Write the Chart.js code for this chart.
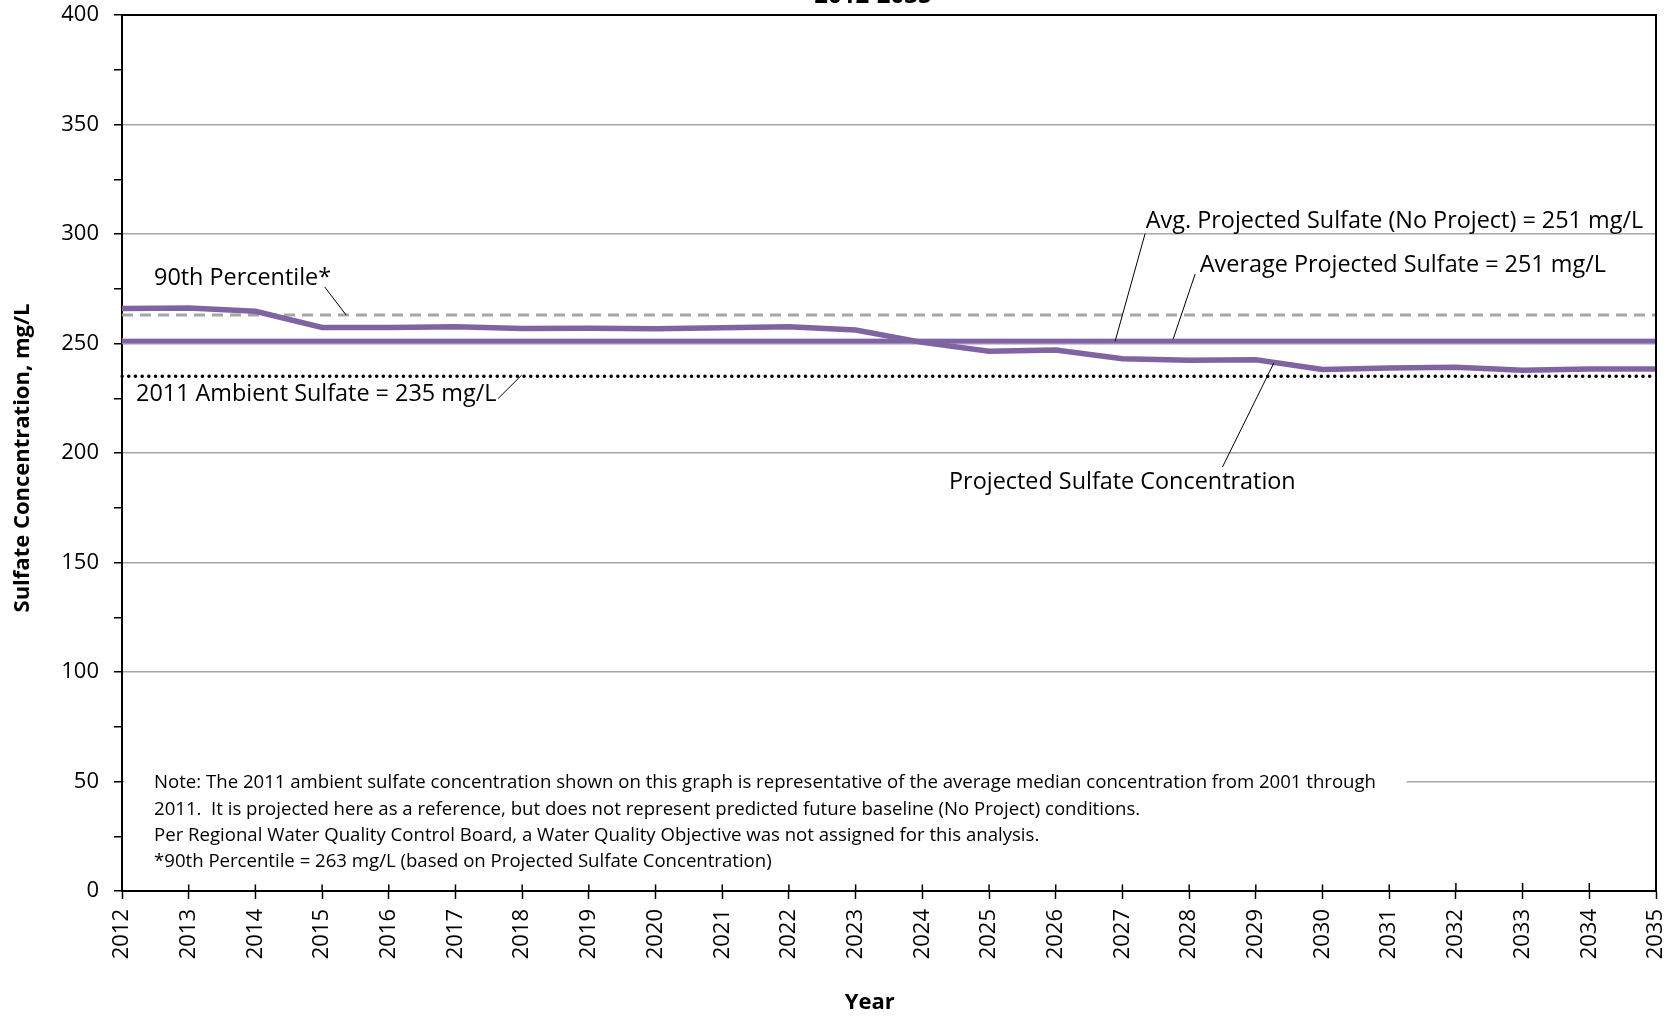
<!DOCTYPE html>
<html>
<head>
<meta charset="utf-8">
<script src="https://cdn.jsdelivr.net/npm/chart.js@4.4.1/dist/chart.umd.min.js"></script>
<style>
  html, body { margin: 0; padding: 0; background: #fff; }
  #wrap { width: 1680px; height: 1017px; position: relative; }
</style>
</head>
<body>
<div id="wrap"><canvas id="chart"></canvas></div>
<script>
// data
const years = ['2012','2013','2014','2015','2016','2017','2018','2019','2020','2021','2022','2023',
               '2024','2025','2026','2027','2028','2029','2030','2031','2032','2033','2034','2035'];
const projectedSulfate = [266, 266.2, 264.7, 257.3, 257.3, 257.6, 256.8, 257, 256.7, 257.2, 257.7, 256.2,
                          250.5, 246.5, 247, 243, 242.3, 242.6, 238.1, 238.8, 239.1, 237.8, 238.4, 238.4];
const avgProjected = 251;
const avgNoProject = 251;
const percentile90 = 263;
const ambient2011 = 235;
const yTicks = [0, 50, 100, 150, 200, 250, 300, 350, 400];

const noteLines = [
  'Note: The 2011 ambient sulfate concentration shown on this graph is representative of the average median concentration from 2001 through',
  '2011.  It is projected here as a reference, but does not represent predicted future baseline (No Project) conditions.',
  'Per Regional Water Quality Control Board, a Water Quality Objective was not assigned for this analysis.',
  '*90th Percentile = 263 mg/L (based on Projected Sulfate Concentration)'
];

// callouts: text, left x (index), centre y (value), leader from -> to
const callouts = [
  { text: '90th Percentile*', x: 0.48, y: 279.7, from: [3.04, 275.8], to: [3.36, 263] },
  { text: '2011 Ambient Sulfate = 235 mg/L', x: 0.21, y: 226.9, from: [5.64, 224.9], to: [5.99, 235.5] },
  { text: 'Avg. Projected Sulfate (No Project) = 251 mg/L', x: 15.35, y: 305.6, from: [15.34, 300.2], to: [14.89, 251] },
  { text: 'Average Projected Sulfate = 251 mg/L', x: 16.16, y: 285.6, from: [16.09, 281.7], to: [15.76, 252] },
  { text: 'Projected Sulfate Concentration', x: 12.4, y: 186.8, from: [16.5, 193.6], to: [17.27, 241.1] }
];

const FONT = "'Open Sans', sans-serif";
const flat = v => years.map(() => v);

const decor = {
  id: 'decor',
  beforeDraw(chart) {
    const c = chart.ctx;
    c.save();
    c.fillStyle = '#fff';
    c.fillRect(0, 0, chart.width, chart.height);
    c.restore();
  },
  afterDraw(chart) {
    const c = chart.ctx;
    const xs = chart.scales.x, ys = chart.scales.y;
    const a = chart.chartArea;
    const px = v => xs.getPixelForValue(v);
    const py = v => ys.getPixelForValue(v);
    c.save();

    // box border top / right
    c.strokeStyle = '#000';
    c.lineWidth = 2;
    c.beginPath();
    c.moveTo(a.left, a.top); c.lineTo(a.right, a.top); c.lineTo(a.right, a.bottom);
    c.stroke();

    // inner half of x ticks
    c.lineWidth = 1.5;
    years.forEach((y, i) => {
      c.beginPath();
      c.moveTo(px(i), a.bottom);
      c.lineTo(px(i), a.bottom - 8);
      c.stroke();
    });

    // note box
    c.fillStyle = '#fff';
    c.fillRect(a.left + 2, py(62), px(19.26) - a.left - 2, py(3) - py(62));
    c.fillStyle = '#000';
    c.font = '18.6px ' + FONT;
    c.textBaseline = 'middle';
    c.textAlign = 'left';
    [49.4, 37.2, 25.4, 13.2].forEach((v, i) => c.fillText(noteLines[i], px(0.48), py(v)));

    // callouts
    c.font = '23.4px ' + FONT;
    callouts.forEach(o => {
      c.fillText(o.text, px(o.x), py(o.y));
      c.strokeStyle = '#000';
      c.lineWidth = 1;
      c.beginPath();
      c.moveTo(px(o.from[0]), py(o.from[1]));
      c.lineTo(px(o.to[0]), py(o.to[1]));
      c.stroke();
    });

    // title, mostly cut off at the top edge
    c.font = 'bold 24px ' + FONT;
    c.textAlign = 'center';
    c.textBaseline = 'alphabetic';
    c.fillText('2012-2035', px(11.26), 3);

    // axis titles
    c.font = 'bold 22px ' + FONT;
    c.textBaseline = 'middle';
    c.fillText('Year', px(11.21), 1003);
    c.translate(23, (a.top + a.bottom) / 2 + 5);
    c.rotate(-Math.PI / 2);
    c.fillText('Sulfate Concentration, mg/L', 0, 0);
    c.restore();
  }
};

new Chart(document.getElementById('chart'), {
  type: 'line',
  data: {
    labels: years,
    datasets: [
      { label: 'Projected Sulfate Concentration', data: projectedSulfate,
        borderColor: '#8064A2', borderWidth: 5.5 },
      { label: 'Average Projected Sulfate', data: flat(avgProjected),
        borderColor: '#8064A2', borderWidth: 4.5 },
      { label: 'Avg. Projected Sulfate (No Project)', data: flat(avgNoProject),
        borderColor: '#C3B5DA', borderWidth: 6 },
      { label: '90th Percentile', data: flat(percentile90),
        borderColor: '#A6A6A6', borderWidth: 3, borderDash: [11, 7] },
      { label: '2011 Ambient Sulfate', data: flat(ambient2011),
        borderColor: '#000', borderWidth: 3.5, borderDash: [0.1, 6.6], borderCapStyle: 'round' }
    ]
  },
  options: {
    responsive: true,
    maintainAspectRatio: false,
    animation: false,
    layout: { padding: { top: 15, right: 24, left: 0, bottom: 0 } },
    elements: { point: { radius: 0 }, line: { tension: 0 } },
    plugins: { legend: { display: false }, tooltip: { enabled: false } },
    scales: {
      x: {
        type: 'category',
        offset: false,
        grid: { drawOnChartArea: false, tickColor: '#000', tickLength: 8, tickWidth: 1.5 },
        border: { display: true, color: '#000', width: 2 },
        ticks: { minRotation: 90, maxRotation: 90, autoSkip: false, padding: 10,
                 color: '#000', font: { family: FONT, size: 22 } },
        afterFit: s => { s.height = 126; s.paddingLeft = 0; s.paddingRight = 0; }
      },
      y: {
        min: 0,
        max: 400,
        grid: {
          color: ctx => (ctx.tick && yTicks.includes(ctx.tick.value) && ctx.tick.value !== 0 && ctx.tick.value !== 400) ? '#A6A6A6' : 'rgba(0,0,0,0)',
          lineWidth: 1.5,
          tickColor: '#000', tickLength: 8, tickWidth: 1.5
        },
        border: { display: true, color: '#000', width: 2 },
        ticks: { stepSize: 25, autoSkip: false, padding: 15, color: '#000',
                 font: { family: FONT, size: 22 },
                 callback: v => yTicks.includes(v) ? v : '' },
        afterFit: s => { s.width = 122; s.paddingTop = 0; s.paddingBottom = 0; }
      }
    }
  },
  plugins: [decor]
});
</script>
</body>
</html>
